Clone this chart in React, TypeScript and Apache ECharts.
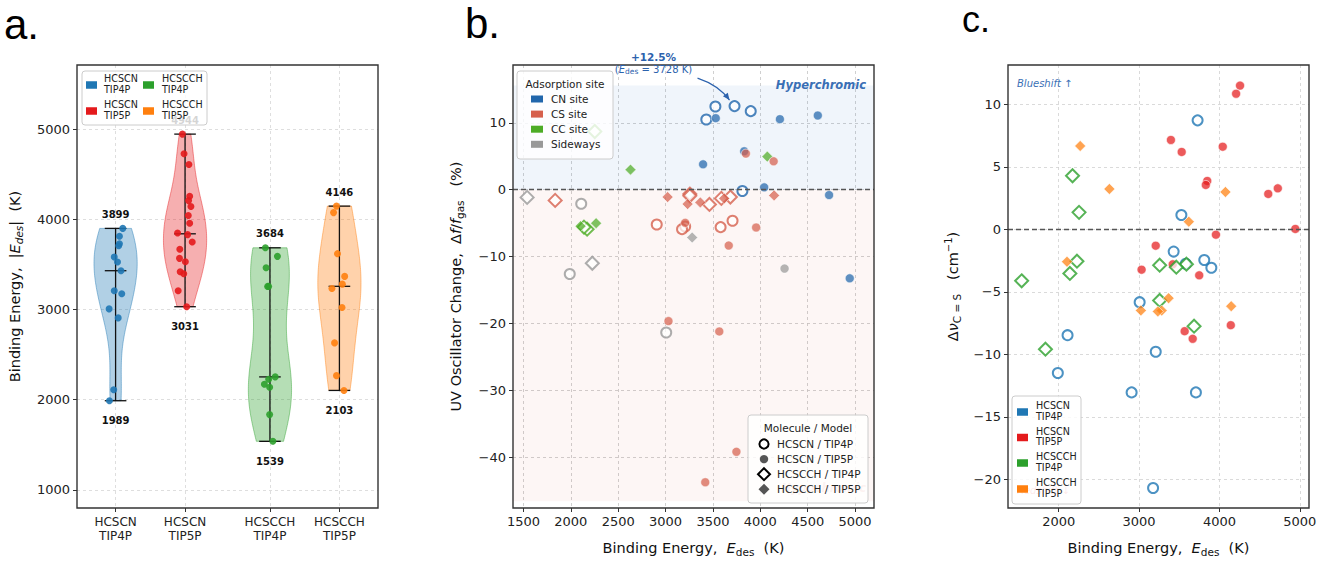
import React, { useEffect, useRef } from 'react';
import * as echarts from 'echarts';

const FONT = "'DejaVu Sans', Verdana, sans-serif";

// ---------------- Panel a: groups ----------------
const GROUP_LABELS = ['HCSCN\nTIP4P', 'HCSCN\nTIP5P', 'HCSCCH\nTIP4P', 'HCSCCH\nTIP5P'];
const GROUP_POS = [0, 0.9, 2.0, 2.9];
const GROUP_COLORS = ['#1f77b4', '#e41a1c', '#2ca02c', '#ff7f0e'];

// HCSCN / TIP4P
const E_CN4 = [3899, 3811, 3728, 3707, 3581, 3526, 3430, 3207, 3174, 3007, 2907, 2110, 1989];
const JIT_CN4 = [0.093, 0.05, 0.05, 0.04, -0.017, 0.025, 0.07, -0.017, 0.08, -0.084, 0.034, -0.025, -0.08];
const SITE_CN4 = ['CN', 'CN', 'CN', 'CS', 'CS', 'CN', 'CN', 'CS', 'CS', 'SW', 'CS', 'SW', 'SW'];
const DF_CN4 = [11.75, -0.2, 12.5, -4.65, -5.6, 12.45, 10.5, -5.5, -5.9, -21.35, -5.2, -2.1, -12.6];
const DNU_CN4 = [-3.07, -2.45, 8.72, -13.05, -2.75, 1.15, -1.78, -9.8, -20.7, -5.83, -13.05, -8.47, -11.5];

// HCSCN / TIP5P
const E_CN5 = [4944, 4726, 4607, 4256, 4207, 4141, 4041, 3956, 3848, 3830, 3748, 3667, 3567, 3530, 3419, 3396, 3207, 3031];
const JIT_CN5 = [-0.034, -0.013, 0.05, 0.06, 0.046, 0.076, 0.042, 0.06, -0.097, 0.034, 0.093, -0.068, -0.072, 0.004, -0.063, -0.017, -0.089, 0.021];
const SITE_CN5 = ['CN', 'CN', 'CN', 'SW', 'CN', 'CS', 'CN', 'CS', 'CS', 'CN', 'CS', 'CS', 'CS', 'CN', 'CS', 'CN', 'CS', 'CS'];
const DF_CN5 = [-13.25, -0.8, 11.1, -11.8, 10.55, 4.25, 0.35, -5.65, 5.4, 5.75, -39.2, -8.35, -21.2, 10.7, -43.75, 3.8, -4.95, -19.65];
const DNU_CN5 = [0.03, 3.28, 2.83, 11.5, 10.85, -7.67, 6.61, -0.43, 3.87, 3.55, -3.68, -8.76, -8.15, 6.19, -2.8, 7.15, -1.31, -3.23];

// HCSCCH / TIP4P
const E_CC4 = [3684, 3589, 3463, 3256, 3256, 2253, 2227, 2172, 2139, 1835, 1539];
const JIT_CC4 = [-0.059, 0.097, -0.05, -0.03, -0.017, 0.068, -0.017, -0.072, -0.004, -0.004, 0.038];
const SITE_CC4 = ['CS', 'CS', 'CS', 'CS', 'CS', 'CC', 'SW', 'CC', 'CC', 'CS', 'SW'];
const DF_CC4 = [-1.1, -1.3, -2.2, -0.65, -0.9, 8.7, -11.0, -5.9, -5.6, -1.6, -1.15];
const DNU_CC4 = [-7.75, -2.79, -3.03, -2.87, -5.69, 1.36, -2.55, 4.29, -3.53, -9.59, -4.12];

// HCSCCH / TIP5P
const E_CC5 = [4146, 4074, 3619, 3367, 3281, 3233, 3022, 2630, 2267, 2103];
const JIT_CC5 = [-0.038, -0.076, -0.025, 0.068, 0.038, -0.097, 0.034, -0.063, -0.038, 0.059];
const SITE_CC5 = ['CS', 'CC', 'CS', 'CS', 'SW', 'CS', 'CS', 'CC', 'CC', 'CC'];
const DF_CC5 = [-0.85, 4.95, -1.3, -1.9, -7.15, -2.15, -1.1, 3.0, -5.0, -5.45];
const DNU_CC5 = [-6.15, 2.99, 0.61, -5.51, -6.5, -6.57, -6.49, 3.23, 6.67, -2.59];

// ---------------- Panel b: sites ----------------
const SITE_KEYS = ['CN', 'CS', 'CC', 'SW'];
const SITE_NAMES = ['CN site', 'CS site', 'CC site', 'Sideways'];
const SITE_COLORS = ['#2166ac', '#d6604d', '#4dac26', '#999999'];
const MODEL_NAMES = ['HCSCN / TIP4P', 'HCSCN / TIP5P', 'HCSCCH / TIP4P', 'HCSCCH / TIP5P'];
const HYPER_TOP = 15.6;
const HYPO_BOTTOM = -46.6;

// ---------------- Ticks ----------------
const A_Y_TICKS = [1000, 2000, 3000, 4000, 5000];
const B_X_TICKS = [1500, 2000, 2500, 3000, 3500, 4000, 4500, 5000];
const B_Y_TICKS = [-40, -30, -20, -10, 0, 10];
const C_X_TICKS = [2000, 3000, 4000, 5000];
const C_Y_TICKS = [-20, -15, -10, -5, 0, 5, 10];

const GROUPS = [
  { E: E_CN4, jit: JIT_CN4, site: SITE_CN4, df: DF_CN4, dnu: DNU_CN4 },
  { E: E_CN5, jit: JIT_CN5, site: SITE_CN5, df: DF_CN5, dnu: DNU_CN5 },
  { E: E_CC4, jit: JIT_CC4, site: SITE_CC4, df: DF_CC4, dnu: DNU_CC4 },
  { E: E_CC5, jit: JIT_CC5, site: SITE_CC5, df: DF_CC5, dnu: DNU_CC5 },
];

// layout
const GRIDS = [
  { left: 77, top: 65, width: 301, height: 443 },
  { left: 513, top: 65, width: 361, height: 443 },
  { left: 1008, top: 65, width: 301, height: 443 },
];

function rgba(hex: string, a: number) {
  const n = parseInt(hex.slice(1), 16);
  return `rgba(${(n >> 16) & 255},${(n >> 8) & 255},${n & 255},${a})`;
}

function median(v: number[]) {
  const s = [...v].sort((a, b) => a - b);
  const m = Math.floor(s.length / 2);
  return s.length % 2 ? s[m] : (s[m - 1] + s[m]) / 2;
}

// Gaussian KDE (Scott's rule) outline, like matplotlib's violinplot
function violinOutline(vals: number[], halfWidth: number, n = 100) {
  const m = vals.length;
  const mean = vals.reduce((a, b) => a + b, 0) / m;
  const sd = Math.sqrt(vals.reduce((a, b) => a + (b - mean) ** 2, 0) / (m - 1));
  const h = sd * Math.pow(m, -0.2);
  const lo = Math.min(...vals);
  const hi = Math.max(...vals);
  const pts: number[][] = [];
  for (let i = 0; i < n; i++) {
    const y = lo + ((hi - lo) * i) / (n - 1);
    let d = 0;
    for (const v of vals) d += Math.exp(-0.5 * ((y - v) / h) ** 2);
    pts.push([y, d]);
  }
  const dmax = Math.max(...pts.map((p) => p[1]));
  return pts.map(([y, d]) => [y, (halfWidth * d) / dmax]);
}

const minusFmt = (v: number) => (v < 0 ? '\u2212' + Math.abs(v) : String(v));

const nameRich = {
  n: { fontFamily: FONT, fontSize: 14.5, color: '#111' },
  i: { fontFamily: FONT, fontSize: 14.5, color: '#111', fontStyle: 'italic' },
  sub: { fontFamily: FONT, fontSize: 10.5, color: '#111', padding: [8, 0, 0, 0] },
  subi: { fontFamily: FONT, fontSize: 10.5, color: '#111', fontStyle: 'italic', padding: [8, 0, 0, 0] },
  sup: { fontFamily: FONT, fontSize: 10, color: '#111', padding: [0, 0, 8, 0] },
};

function axisCommon(ticks: number[], extra: any = {}) {
  return {
    axisLine: { show: false, onZero: false },
    axisTick: { show: true, length: 4, lineStyle: { color: '#333', width: 1 }, customValues: ticks },
    axisLabel: { color: '#222', fontFamily: FONT, fontSize: 13, customValues: ticks, formatter: minusFmt, ...(extra.label || {}) },
    splitLine: { show: true, lineStyle: { color: extra.gridColor || '#d0d0d0', type: [3, 3], width: 0.8 } },
    nameLocation: 'middle',
    nameTextStyle: { rich: nameRich, fontFamily: FONT, fontSize: 14.5, color: '#111' },
  };
}

function buildOption() {
  const series: any[] = [];

  // ---- panel a: violins
  const outlines = GROUPS.map((g) => violinOutline(g.E, 0.28));
  series.push({
    type: 'custom',
    xAxisIndex: 0,
    yAxisIndex: 0,
    silent: true,
    z: 2,
    data: GROUPS.map((g, i) => [GROUP_POS[i], Math.min(...g.E), Math.max(...g.E), i]),
    encode: { x: 0, y: [1, 2] },
    renderItem: (params: any, api: any) => {
      const gi = api.value(3);
      const g = GROUPS[gi];
      const pos = GROUP_POS[gi];
      const col = GROUP_COLORS[gi];
      const out = outlines[gi];
      const left = out.map(([y, w]) => api.coord([pos - w, y]));
      const right = out.map(([y, w]) => api.coord([pos + w, y])).reverse();
      const lo = Math.min(...g.E);
      const hi = Math.max(...g.E);
      const md = median(g.E);
      const capW = 0.14;
      const line = (x1: number, y1: number, x2: number, y2: number) => {
        const a = api.coord([x1, y1]);
        const b = api.coord([x2, y2]);
        return { type: 'line', shape: { x1: a[0], y1: a[1], x2: b[0], y2: b[1] }, style: { stroke: '#111', lineWidth: 1.3 } };
      };
      const pMax = api.coord([pos, hi]);
      const pMin = api.coord([pos, lo]);
      return {
        type: 'group',
        children: [
          { type: 'polygon', shape: { points: [...left, ...right] }, style: { fill: rgba(col, 0.35), stroke: rgba(col, 0.45), lineWidth: 1 } },
          line(pos, lo, pos, hi),
          line(pos - capW, hi, pos + capW, hi),
          line(pos - capW, lo, pos + capW, lo),
          line(pos - capW, md, pos + capW, md),
          { type: 'text', x: pMax[0], y: pMax[1] - 14, style: { text: String(hi), fill: '#111', fontSize: 10, fontWeight: 'bold', fontFamily: FONT, align: 'center', verticalAlign: 'middle' } },
          { type: 'text', x: pMin[0], y: pMin[1] + 20, style: { text: String(lo), fill: '#111', fontSize: 10, fontWeight: 'bold', fontFamily: FONT, align: 'center', verticalAlign: 'middle' } },
        ],
      };
    },
  });
  // ---- panel a: jittered points
  GROUPS.forEach((g, i) => {
    series.push({
      type: 'scatter',
      xAxisIndex: 0,
      yAxisIndex: 0,
      silent: true,
      z: 3,
      symbol: 'circle',
      symbolSize: 7,
      itemStyle: { color: GROUP_COLORS[i], opacity: 0.9 },
      data: g.E.map((e, k) => [GROUP_POS[i] + g.jit[k], e]),
    });
  });

  // ---- panel b: shading + zero line
  series.push({
    type: 'scatter',
    xAxisIndex: 1,
    yAxisIndex: 1,
    data: [],
    z: 1,
    silent: true,
    markArea: {
      silent: true,
      label: { show: false },
      data: [
        [{ yAxis: 0, itemStyle: { color: 'rgba(66,133,210,0.08)' } }, { yAxis: HYPER_TOP }],
        [{ yAxis: HYPO_BOTTOM, itemStyle: { color: 'rgba(220,100,80,0.055)' } }, { yAxis: 0 }],
      ],
    },
    markLine: {
      silent: true,
      symbol: 'none',
      label: { show: false },
      lineStyle: { color: '#555', type: [5, 3], width: 1.3 },
      data: [{ yAxis: 0 }],
    },
  });

  const modelStyle = (mi: number, color: string) => {
    const open = mi === 0 || mi === 2;
    const diamond = mi >= 2;
    const size = diamond ? (open ? 13 : 11) : open ? 10 : 9;
    return {
      symbol: diamond ? 'diamond' : 'circle',
      symbolSize: size,
      itemStyle: open
        ? { color: 'rgba(255,255,255,0.9)', borderColor: color, borderWidth: 2 }
        : { color: rgba(color, 0.9), borderColor: 'rgba(255,255,255,0.9)', borderWidth: 0.8 },
    };
  };

  // ---- panel b: markers by model and site
  [0, 2, 3, 1].forEach((mi) => {
    const g = GROUPS[mi];
    SITE_KEYS.forEach((sk, si) => {
      const data = g.E.map((e, k) => (g.site[k] === sk ? [e, g.df[k]] : null)).filter((d) => d);
      if (!data.length) return;
      series.push({
        type: 'scatter',
        xAxisIndex: 1,
        yAxisIndex: 1,
        silent: true,
        z: 3,
        data,
        ...modelStyle(mi, SITE_COLORS[si]),
      });
    });
  });

  // ---- panel c: zero line
  series.push({
    type: 'scatter',
    xAxisIndex: 2,
    yAxisIndex: 2,
    data: [],
    z: 1,
    silent: true,
    markLine: {
      silent: true,
      symbol: 'none',
      label: { show: false },
      lineStyle: { color: '#555', type: [5, 3], width: 1.3 },
      data: [{ yAxis: 0 }],
    },
  });
  [0, 1, 2, 3].forEach((mi) => {
    const g = GROUPS[mi];
    series.push({
      type: 'scatter',
      xAxisIndex: 2,
      yAxisIndex: 2,
      silent: true,
      z: 3,
      data: g.E.map((e, k) => [e, g.dnu[k]]),
      ...modelStyle(mi, GROUP_COLORS[mi]),
    });
  });

  const aX = axisCommon(GROUP_POS, { gridColor: '#d5d5d5' });
  aX.axisLabel = {
    ...aX.axisLabel,
    fontSize: 12,
    lineHeight: 14,
    margin: 7,
    formatter: (v: number) => {
      const i = GROUP_POS.findIndex((p) => Math.abs(p - v) < 1e-6);
      return i >= 0 ? GROUP_LABELS[i] : '';
    },
  } as any;

  return {
    animation: false,
    backgroundColor: '#ffffff',
    textStyle: { fontFamily: FONT },
    grid: GRIDS.map((g) => ({ ...g, containLabel: false })),
    xAxis: [
      { type: 'value', gridIndex: 0, min: -0.5, max: 3.4, ...aX },
      {
        type: 'value', gridIndex: 1, min: 1390, max: 5200,
        ...axisCommon(B_X_TICKS, { gridColor: '#c4c4c4', label: { margin: 7 } }),
        name: '{n|Binding Energy,  }{i|E}{sub|des}{n|  (K)}', nameGap: 30,
      },
      {
        type: 'value', gridIndex: 2, min: 1369, max: 5114,
        ...axisCommon(C_X_TICKS, { gridColor: '#d0d0d0', label: { margin: 7 } }),
        name: '{n|Binding Energy,  }{i|E}{sub|des}{n|  (K)}', nameGap: 30,
      },
    ],
    yAxis: [
      {
        type: 'value', gridIndex: 0, min: 800, max: 5710,
        ...axisCommon(A_Y_TICKS, { gridColor: '#d5d5d5', label: { margin: 7 } }),
        name: '{n|Binding Energy,  |}{i|E}{subi|des}{n||  (K)}', nameGap: 53,
      },
      {
        type: 'value', gridIndex: 1, min: -47.6, max: 18.65,
        ...axisCommon(B_Y_TICKS, { gridColor: '#c4c4c4', label: { margin: 7 } }),
        name: '{n|UV Oscillator Change,  \u0394}{i|f}{n|/}{i|f}{sub|gas}{n|   (%)}', nameGap: 48,
      },
      {
        type: 'value', gridIndex: 2, min: -22.3, max: 13.15,
        ...axisCommon(C_Y_TICKS, { gridColor: '#d0d0d0', label: { margin: 7 } }),
        name: '{n|\u0394}{i|\u03bd}{sub|C = S}{n|   (cm}{sup|\u22121}{n|)}', nameGap: 46,
      },
    ],
    series,
  };
}

function buildGraphics(chart: any) {
  const g: any[] = [];
  const txt = (x: number, y: number, text: string, o: any = {}, z = 100) => ({
    type: 'text', x, y, z, silent: true,
    style: { text, fill: '#111', fontFamily: FONT, fontSize: 10.5, align: 'left', verticalAlign: 'middle', ...o },
  });
  const box = (x: number, y: number, w: number, h: number) => ({
    type: 'rect', z: 99, silent: true,
    shape: { x, y, width: w, height: h, r: 3 },
    style: { fill: 'rgba(255,255,255,0.82)', stroke: '#cccccc', lineWidth: 1 },
  });
  const patch = (x: number, cy: number, color: string, w = 11, h = 7) => ({
    type: 'rect', z: 100, silent: true, shape: { x, y: cy - h / 2, width: w, height: h }, style: { fill: color },
  });

  // frames
  GRIDS.forEach((gr) =>
    g.push({ type: 'rect', z: 50, silent: true, shape: { x: gr.left, y: gr.top, width: gr.width, height: gr.height }, style: { fill: 'none', stroke: '#333', lineWidth: 1.4 } })
  );

  // panel letters
  const LETTER_FONT = "'Liberation Sans', Arial, sans-serif";
  g.push(txt(4, 24, 'a.', { fontFamily: LETTER_FONT, fontSize: 42, fill: '#000' }));
  g.push(txt(465, 23, 'b.', { fontFamily: LETTER_FONT, fontSize: 42, fill: '#000' }));
  g.push(txt(962, 19, 'c.', { fontFamily: LETTER_FONT, fontSize: 36, fill: '#000' }));

  // panel a legend
  g.push(box(82, 71, 125, 54));
  const aLeg = [
    [86, 104, 85],
    [86, 104, 111],
    [143, 162, 85],
    [143, 162, 111],
  ];
  [0, 1, 2, 3].forEach((gi) => {
    const [px, tx, cy] = aLeg[gi];
    g.push(patch(px, cy, GROUP_COLORS[gi], 11, 7.5));
    g.push(txt(tx, cy - 1, GROUP_LABELS[gi], { fontSize: 9.6, lineHeight: 11, fill: '#222' }));
  });

  // panel b texts
  const gb = GRIDS[1];
  const pTop = chart.convertToPixel({ xAxisIndex: 1, yAxisIndex: 1 }, [5200, HYPER_TOP]);
  g.push(txt(gb.left + gb.width - 8, pTop[1], 'Hyperchromic', { align: 'right', fontSize: 11.5, fontWeight: 'bold', fontStyle: 'italic', fill: '#3a6fb5' }, 40));
  const pBot = chart.convertToPixel({ xAxisIndex: 1, yAxisIndex: 1 }, [5200, HYPO_BOTTOM]);
  g.push(txt(gb.left + gb.width - 8, pBot[1] - 13, 'Hypochromic', { align: 'right', fontSize: 11.5, fontWeight: 'bold', fontStyle: 'italic', fill: 'rgba(214,96,77,0.45)' }, 40));

  // annotation at the maximum Δf
  let best = { e: 0, df: -Infinity };
  GROUPS.forEach((gr) => gr.E.forEach((e, k) => { if (gr.df[k] > best.df) best = { e, df: gr.df[k] }; }));
  const P = chart.convertToPixel({ xAxisIndex: 1, yAxisIndex: 1 }, [best.e, best.df]);
  const annColor = '#2c62ad';
  g.push(txt(P[0] - 81, P[1] - 49, '+' + best.df.toFixed(1) + '%', { align: 'center', fontWeight: 'bold', fontSize: 10.5, fill: annColor }));
  g.push(txt(P[0] - 81, P[1] - 37, '', {
    align: 'center', fill: annColor,
    text: `{n|(}{i|E}{s|des}{n| = ${best.e} K)}`,
    rich: {
      n: { fontFamily: FONT, fontSize: 10, color: annColor },
      i: { fontFamily: FONT, fontSize: 10, fontStyle: 'italic', color: annColor },
      s: { fontFamily: FONT, fontSize: 7.5, color: annColor, padding: [5, 0, 0, 0] },
    },
  }));
  const sx = P[0] - 37, sy = P[1] - 28, ex = P[0] - 5, ey = P[1] - 6;
  const cx = (sx + ex) / 2 + 5, cy = (sy + ey) / 2 - 4;
  g.push({ type: 'bezierCurve', z: 100, silent: true, shape: { x1: sx, y1: sy, x2: ex, y2: ey, cpx1: cx, cpy1: cy }, style: { stroke: annColor, lineWidth: 1.2, fill: 'none' } });
  {
    let dx = ex - cx, dy = ey - cy;
    const L = Math.hypot(dx, dy);
    dx /= L; dy /= L;
    const bx = ex - dx * 7, by = ey - dy * 7;
    g.push({ type: 'polygon', z: 100, silent: true, shape: { points: [[ex, ey], [bx - dy * 3, by + dx * 3], [bx + dy * 3, by - dx * 3]] }, style: { fill: annColor } });
  }

  // panel b legend 1
  g.push(box(517, 71, 96, 88));
  g.push(txt(565, 84, 'Adsorption site', { align: 'center', fontSize: 10.5, fill: '#222' }));
  SITE_NAMES.forEach((s, i) => {
    const cyy = 99 + i * 15.1;
    g.push(patch(531, cyy, SITE_COLORS[i], 12, 7));
    g.push(txt(551, cyy, s, { fontSize: 10.5, fill: '#222' }));
  });

  // panel b legend 2
  g.push(box(748, 415, 120, 88));
  g.push(txt(808, 428, 'Molecule / Model', { align: 'center', fontSize: 10.5, fill: '#222' }));
  MODEL_NAMES.forEach((s, i) => {
    const cyy = 444 + i * 15.1;
    const mx = 764;
    if (i === 0) g.push({ type: 'circle', z: 100, silent: true, shape: { cx: mx, cy: cyy, r: 4.6 }, style: { fill: '#fff', stroke: '#000', lineWidth: 2 } });
    if (i === 1) g.push({ type: 'circle', z: 100, silent: true, shape: { cx: mx, cy: cyy, r: 4.2 }, style: { fill: '#555' } });
    if (i === 2) g.push({ type: 'polygon', z: 100, silent: true, shape: { points: [[mx, cyy - 6], [mx + 6, cyy], [mx, cyy + 6], [mx - 6, cyy]] }, style: { fill: '#fff', stroke: '#000', lineWidth: 2 } });
    if (i === 3) g.push({ type: 'polygon', z: 100, silent: true, shape: { points: [[mx, cyy - 5.5], [mx + 5.5, cyy], [mx, cyy + 5.5], [mx - 5.5, cyy]] }, style: { fill: '#555' } });
    g.push(txt(777, cyy, s, { fontSize: 10.5, fill: '#222' }));
  });

  // panel c texts + legend
  const gc = GRIDS[2];
  g.push(txt(gc.left + 9, gc.top + 18, 'Blueshift \u2191', { fontSize: 10, fontStyle: 'italic', fill: '#3a6fb5' }, 40));
  g.push(txt(gc.left + 9, gc.top + gc.height - 18, 'Redshift \u2193', { fontSize: 10, fontStyle: 'italic', fill: 'rgba(228,26,28,0.55)' }, 40));
  g.push(box(1012, 396, 69, 108));
  [412, 437.5, 463, 489].forEach((cyy, i) => {
    g.push(patch(1017, cyy, GROUP_COLORS[i], 11, 7.5));
    g.push(txt(1036, cyy - 1, GROUP_LABELS[i], { fontSize: 9.6, lineHeight: 10.5, fill: '#222' }));
  });

  return g;
}

export default function App() {
  const ref = useRef<HTMLDivElement>(null);
  useEffect(() => {
    const chart = echarts.init(ref.current!, null, { renderer: 'svg' });
    chart.setOption(buildOption() as any);
    chart.setOption({ graphic: buildGraphics(chart) } as any);
    return () => chart.dispose();
  }, []);
  return <div ref={ref} style={{ position: 'fixed', left: 0, top: 0, width: 1343, height: 563, background: '#fff' }} />;
}
